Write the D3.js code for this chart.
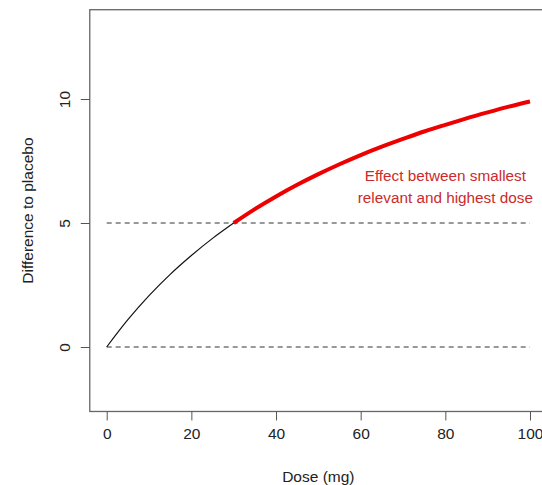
<!DOCTYPE html>
<html>
<head>
<meta charset="utf-8">
<script src="https://d3js.org/d3.v7.min.js"></script>
<style>
  body { margin: 0; background: #fff; }
  text { font-family: "Liberation Sans", Arial, sans-serif; }
</style>
</head>
<body>
<div id="chart"></div>
<script>
// dose (mg) and estimated effect
var doses   = [0, 5, 10, 15, 20, 25, 30, 35, 40, 45, 50, 55, 60, 65, 70, 75, 80, 85, 90, 95, 100];
var effects = [0, 1.10, 2.07, 2.93, 3.69, 4.38, 5.00, 5.56, 6.07, 6.54, 6.97, 7.37, 7.74, 8.08, 8.39, 8.69, 8.96, 9.22, 9.46, 9.69, 9.90];
var xTicks = [0, 20, 40, 60, 80, 100];
var yTicks = [0, 5, 10];
var refLines = [0, 5];
var relevantDose = 30;
var noteLines = ["Effect between smallest", "relevant and highest dose"];

var W = 542, H = 485;
var svg = d3.select("#chart").append("svg")
  .attr("width", W).attr("height", H);

var x = d3.scaleLinear().domain([0, 100]).range([106.7, 530]);
var y = d3.scaleLinear().domain([0, 10]).range([347, 99]);

// plot box (R style, extends 4%)
svg.append("rect")
  .attr("x", x(-4)).attr("y", y(13.6))
  .attr("width", x(104) - x(-4)).attr("height", y(-2.6) - y(13.6))
  .attr("fill", "none").attr("stroke", "#666").attr("stroke-width", 1.3);

// axes
var xAxis = svg.append("g")
  .attr("transform", "translate(0," + y(-2.6) + ")")
  .call(d3.axisBottom(x).tickValues(xTicks).tickSize(9).tickPadding(8));
var yAxis = svg.append("g")
  .attr("transform", "translate(" + x(-4) + ",0)")
  .call(d3.axisLeft(y).tickValues(yTicks).tickSize(9).tickPadding(0));

[xAxis, yAxis].forEach(function(a) {
  a.select(".domain").remove();
  a.selectAll("line").attr("stroke", "#555");
  a.selectAll("text").attr("font-size", "15.5px").attr("fill", "#222")
    .style("font-family", '"Liberation Sans", Arial, sans-serif');
});

// rotate y tick labels like R
yAxis.selectAll(".tick text")
  .attr("x", null).attr("dy", null)
  .attr("text-anchor", "middle")
  .attr("transform", "translate(-20,0) rotate(-90)")
  .attr("y", 0);

// axis titles
svg.append("text")
  .attr("x", (x(-4) + x(104)) / 2).attr("y", 482)
  .attr("text-anchor", "middle").attr("font-size", "15.5px").attr("fill", "#222")
  .text("Dose (mg)");
svg.append("text")
  .attr("transform", "translate(33," + (y(-2.6) + y(13.6)) / 2 + ") rotate(-90)")
  .attr("text-anchor", "middle").attr("font-size", "15.5px").attr("fill", "#222")
  .text("Difference to placebo");

// dashed reference lines
svg.selectAll(".ref")
  .data(refLines)
  .enter().append("line")
    .attr("x1", x(0)).attr("x2", x(100))
    .attr("y1", function(d) { return y(d); })
    .attr("y2", function(d) { return y(d); })
    .attr("stroke", "#333").attr("stroke-dasharray", "5,4");

var pts = doses.map(function(d, i) { return [d, effects[i]]; });
var line = d3.line()
  .x(function(d) { return x(d[0]); })
  .y(function(d) { return y(d[1]); })
  .curve(d3.curveMonotoneX);

// black part up to smallest relevant dose
svg.append("path")
  .datum(pts.filter(function(p) { return p[0] <= relevantDose; }))
  .attr("d", line).attr("fill", "none")
  .attr("stroke", "#111").attr("stroke-width", 1.2);

// red part from relevant dose to highest dose
svg.append("path")
  .datum(pts.filter(function(p) { return p[0] >= relevantDose; }))
  .attr("d", line).attr("fill", "none")
  .attr("stroke", "#ee0000").attr("stroke-width", 4);

// annotation
svg.append("text")
  .attr("x", x(80)).attr("y", 181)
  .attr("text-anchor", "middle").attr("font-size", "15.3px").attr("fill", "#cc2a2a")
  .selectAll("tspan")
  .data(noteLines)
  .enter().append("tspan")
    .attr("x", x(80))
    .attr("dy", function(d, i) { return i ? 22 : 0; })
    .text(function(d) { return d; });
</script>
</body>
</html>
